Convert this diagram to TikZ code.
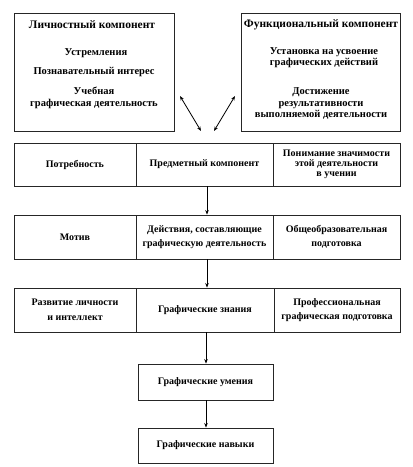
\documentclass[tikz,border=0pt]{standalone}
\usepackage{fontspec}
\setmainfont{Liberation Serif}
\usetikzlibrary{arrows.meta,positioning}
\begin{document}
\begin{tikzpicture}[x=1pt,y=-1pt,
  box/.style={draw=black!85,line width=0.9pt,inner sep=0pt},
  cell/.style={draw=black!85,line width=0.9pt,inner sep=1pt,align=center,font=\bfseries\fontsize{10}{14.5}\selectfont},
  cellt/.style={cell,font=\bfseries\fontsize{10}{9.8}\selectfont},
  txt/.style={align=center,inner sep=0pt,font=\bfseries\fontsize{10.5}{12}\selectfont},
  txtt/.style={txt,font=\bfseries\fontsize{10.5}{9.5}\selectfont},
  ttl/.style={align=center,inner sep=0pt,font=\bfseries\fontsize{11.5}{13}\selectfont},
  arr/.style={-{Stealth[length=4.5pt,width=3.5pt]},line width=0.7pt},
  darr/.style={{Stealth[length=4.5pt,width=3.5pt]}-{Stealth[length=4.5pt,width=3.5pt]},line width=0.8pt}]
\useasboundingbox (0,0) rectangle (413,467);
% top boxes
\node[box,minimum width=160pt,minimum height=118pt] (lk) at (94,72) {};
\node[box,minimum width=159pt,minimum height=118pt] (fk) at (320.5,72) {};
\node[ttl] (lk1) at (92,25) {Личностный компонент};
\node[txt] (lk2) at (96,53) {Устремления};
\node[txt] (lk3) at (94,72) {Познавательный интерес};
\node[txt] (lk4) at (94,98) {Учебная\\графическая деятельность};
\node[ttl] (fk1) at (321,25) {Функциональный компонент};
\node[txtt] (fk2) at (324,57.5) {Установка на усвоение\\графических действий};
\node[txt,font=\bfseries\fontsize{10.5}{11.5}\selectfont] (fk3) at (321,103.5) {Достижение\\результативности\\выполняемой деятельности};
% row 1
\node[cell,minimum width=122pt,minimum height=43pt] (r1a) at (75,164.5) {Потребность};
\node[cell,minimum width=137pt,minimum height=43pt] (r1b) at (204.5,164.5) {Предметный компонент};
\node[cellt,minimum width=127pt,minimum height=43pt] (r1c) at (336.5,164.5) {Понимание значимости\\этой деятельности\\в учении};
% row 2
\node[cell,minimum width=122pt,minimum height=44pt] (r2a) at (75,237) {Мотив};
\node[cell,minimum width=137pt,minimum height=44pt] (r2b) at (204.5,237) {Действия, составляющие\\графическую деятельность};
\node[cell,minimum width=127pt,minimum height=44pt] (r2c) at (336.5,237) {Общеобразовательная\\подготовка};
% row 3
\node[cell,minimum width=122pt,minimum height=44pt] (r3a) at (75,310) {Развитие личности\\и интеллект};
\node[cell,minimum width=138pt,minimum height=44pt] (r3b) at (205,310) {Графические знания};
\node[cell,minimum width=126pt,minimum height=44pt] (r3c) at (337,310) {Профессиональная\\графическая подготовка};
% bottom
\node[cell,minimum width=135pt,minimum height=36pt] (b1) at (205.5,382) {Графические умения};
\node[cell,minimum width=135pt,minimum height=35pt] (b2) at (205.5,445.5) {Графические навыки};
% arrows
\coordinate (la1) at (180,96);
\coordinate (la2) at (201,131);
\coordinate (ra1) at (235,96);
\coordinate (ra2) at (214,131);
\draw[darr] (la1) -- (la2);
\draw[darr] (ra1) -- (ra2);
\draw[arr] (r1b.south -| 207,0) -- (r2b.north -| 207,0);
\draw[arr] (r2b.south -| 207,0) -- (r3b.north -| 207,0);
\draw[arr] (r3b.south -| 206,0) -- (b1.north -| 206,0);
\draw[arr] (b1.south -| 206,0) -- (b2.north -| 206,0);
\end{tikzpicture}
\end{document}
